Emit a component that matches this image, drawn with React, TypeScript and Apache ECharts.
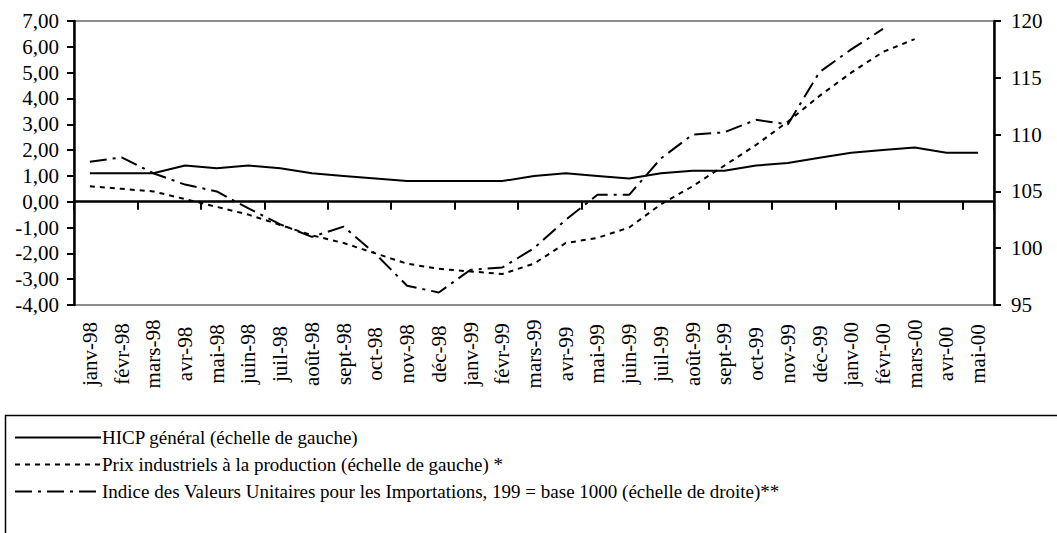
import React, { useEffect, useRef } from "react";
import * as echarts from "echarts";

const categories = [
  "janv-98", "févr-98", "mars-98", "avr-98", "mai-98", "juin-98", "juil-98", "août-98", "sept-98", "oct-98", "nov-98", "déc-98",
  "janv-99", "févr-99", "mars-99", "avr-99", "mai-99", "juin-99", "juil-99", "août-99", "sept-99", "oct-99", "nov-99", "déc-99",
  "janv-00", "févr-00", "mars-00", "avr-00", "mai-00",
];

const hicp = [1.1, 1.1, 1.1, 1.4, 1.3, 1.4, 1.3, 1.1, 1.0, 0.9, 0.8, 0.8, 0.8, 0.8, 1.0, 1.1, 1.0, 0.9, 1.1, 1.2, 1.2, 1.4, 1.5, 1.7, 1.9, 2.0, 2.1, 1.9, 1.9];

const ppi = [0.6, 0.5, 0.4, 0.1, -0.2, -0.5, -0.9, -1.3, -1.6, -2.0, -2.4, -2.6, -2.7, -2.8, -2.4, -1.6, -1.4, -1.0, -0.1, 0.6, 1.4, 2.2, 3.1, 4.1, 5.0, 5.8, 6.3, null, null];

const importIdx = [107.6, 108.0, 106.6, 105.6, 105.0, 103.5, 102.1, 101.0, 101.9, 99.5, 96.7, 96.1, 98.1, 98.3, 100.0, 102.5, 104.7, 104.7, 107.9, 110.0, 110.2, 111.3, 110.9, 115.5, 117.5, 119.3, null, null, null];

const seriesNames = [
  "HICP général (échelle de gauche)",
  "Prix industriels à la production (échelle de gauche) *",
  "Indice des Valeurs Unitaires pour les Importations, 199 = base 1000 (échelle de droite)**",
];

const FONT = "'Liberation Serif', 'Times New Roman', serif";

export default function App() {
  const ref = useRef<HTMLDivElement>(null);
  useEffect(() => {
    document.body.style.margin = "0";
    const chart = echarts.init(ref.current!, undefined, { renderer: "svg" });
    chart.setOption({
      animation: false,
      backgroundColor: "#ffffff",
      textStyle: { fontFamily: FONT, color: "#000" },
      grid: {
        left: 74,
        right: 63,
        top: 21,
        bottom: 228,
        show: true,
        borderColor: "#8c8c8c",
        borderWidth: 2,
        backgroundColor: "transparent",
      },
      legend: {
        orient: "vertical",
        left: 9,
        top: 423,
        itemWidth: 86,
        itemHeight: 14,
        itemGap: 8,
        itemStyle: { opacity: 0 },
        textStyle: { fontFamily: FONT, fontSize: 19, color: "#000", padding: [0, 0, 0, -4] },
        data: seriesNames,
      },
      graphic: [
        {
          type: "rect",
          left: 3,
          top: 413,
          shape: { width: 1100, height: 200 },
          style: { fill: "none", stroke: "#000", lineWidth: 1.5 },
          silent: true,
        },
      ],
      xAxis: [
        {
          type: "category",
          data: categories,
          boundaryGap: true,
          axisLine: { show: true, onZero: true, onZeroAxisIndex: 0, lineStyle: { color: "#000", width: 2.5 } },
          axisTick: { show: true, length: 8, inside: false, lineStyle: { color: "#000", width: 2 } },
          axisLabel: { show: false },
          splitLine: { show: false },
        },
        {
          type: "category",
          data: categories,
          position: "bottom",
          boundaryGap: true,
          axisLine: { show: false, onZero: false },
          axisTick: { show: false },
          axisLabel: {
            show: true,
            rotate: 90,
            interval: 0,
            align: "center",
            verticalAlign: "middle",
            margin: 49,
            fontFamily: FONT,
            fontSize: 21,
            color: "#000",
          },
          splitLine: { show: false },
        },
      ],
      yAxis: [
        {
          type: "value",
          position: "left",
          min: -4,
          max: 7,
          interval: 1,
          axisLine: { show: true, lineStyle: { color: "#000", width: 2.5 } },
          axisTick: { show: true, length: 7, lineStyle: { color: "#000", width: 2 } },
          axisLabel: {
            margin: 15,
            fontFamily: FONT,
            fontSize: 21,
            color: "#000",
            formatter: (v: number) => v.toFixed(2).replace(".", ","),
          },
          splitLine: { show: false },
        },
        {
          type: "value",
          position: "right",
          min: 95,
          max: 120,
          interval: 5,
          axisLine: { show: true, lineStyle: { color: "#000", width: 2.5 } },
          axisTick: { show: true, length: 7, lineStyle: { color: "#000", width: 2 } },
          axisLabel: { margin: 17, fontFamily: FONT, fontSize: 21, color: "#000" },
          splitLine: { show: false },
        },
      ],
      series: [
        {
          name: seriesNames[0],
          type: "line",
          xAxisIndex: 0,
          yAxisIndex: 0,
          data: hicp,
          symbol: "none",
          lineStyle: { color: "#000", width: 2, type: "solid" },
          itemStyle: { color: "#000" },
        },
        {
          name: seriesNames[1],
          type: "line",
          xAxisIndex: 0,
          yAxisIndex: 0,
          data: ppi,
          symbol: "none",
          lineStyle: { color: "#000", width: 2, type: [5, 5] },
          itemStyle: { color: "#000" },
        },
        {
          name: seriesNames[2],
          type: "line",
          xAxisIndex: 0,
          yAxisIndex: 1,
          data: importIdx,
          symbol: "none",
          lineStyle: { color: "#000", width: 2, type: [17, 6, 3, 6] },
          itemStyle: { color: "#000" },
        },
      ],
    });
    return () => chart.dispose();
  }, []);
  return <div ref={ref} style={{ width: 1057, height: 533 }} />;
}
